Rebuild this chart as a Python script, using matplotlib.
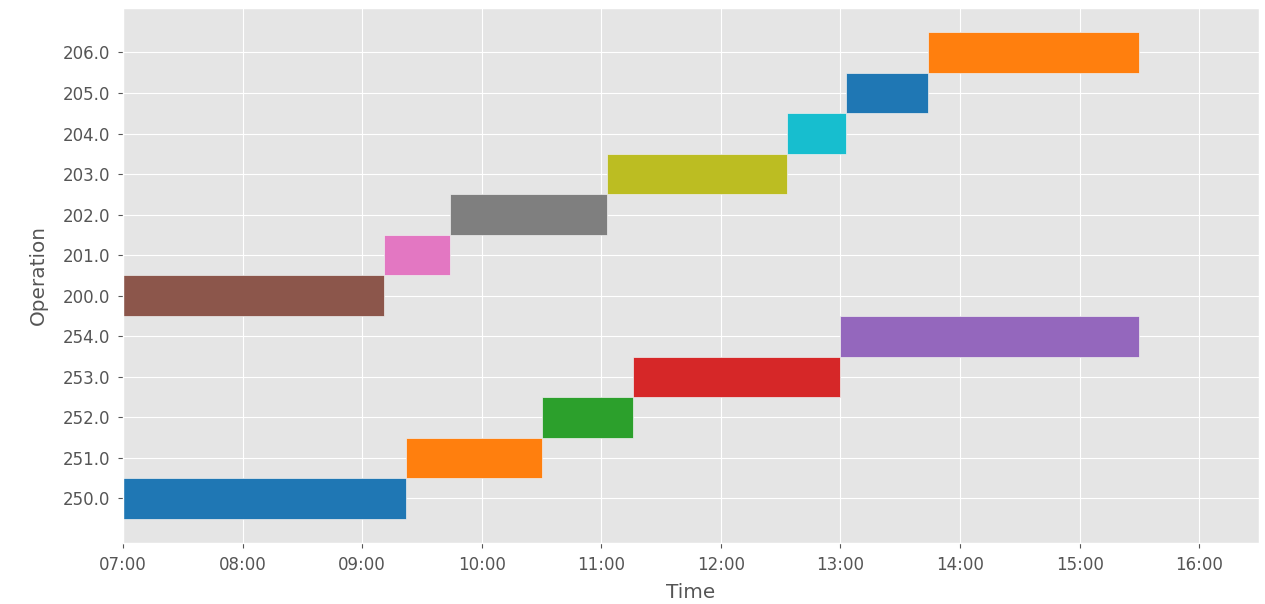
import datetime as dt
import matplotlib
matplotlib.use("Agg")
import matplotlib.pyplot as plt
import matplotlib.dates as mdates

plt.style.use("ggplot")
plt.rcParams["font.size"] = 12

# operations in plotting order (bottom to top)
operations = [250.0, 251.0, 252.0, 253.0, 254.0, 200.0, 201.0, 202.0, 203.0, 204.0, 205.0, 206.0]
starts = ["07:00", "09:22", "10:30", "11:16", "13:00",
          "07:00", "09:11", "09:44", "11:03", "12:33", "13:03", "13:44"]
ends = ["09:22", "10:30", "11:16", "13:00", "15:30",
        "09:11", "09:44", "11:03", "12:33", "13:03", "13:44", "15:30"]
colors = ["#1f77b4", "#ff7f0e", "#2ca02c", "#d62728", "#9467bd",
          "#8c564b", "#e377c2", "#7f7f7f", "#bcbd22", "#17becf", "#1f77b4", "#ff7f0e"]

day = dt.date(2020, 1, 1)


def to_num(s):
    h, m = map(int, s.split(":"))
    return mdates.date2num(dt.datetime.combine(day, dt.time(h, m)))


fig = plt.figure(figsize=(12.65, 6.04), dpi=100)
ax = fig.add_axes([0.0972, 0.101, 0.8981, 0.886])

for i, (s, e, c) in enumerate(zip(starts, ends, colors)):
    x0 = to_num(s)
    ax.barh(i, to_num(e) - x0, left=x0, height=1.0, color=c,
            edgecolor="#EEEEEE", linewidth=0.5)

ax.set_yticks(range(len(operations)))
ax.set_yticklabels([f"{op:.1f}" for op in operations])

ax.set_xlim(to_num("07:00"), to_num("16:30"))
ax.xaxis.set_major_locator(mdates.HourLocator())
ax.xaxis.set_major_formatter(mdates.DateFormatter("%H:%M"))
ax.tick_params(axis="x", pad=6)
ax.tick_params(axis="y", pad=6)

ax.set_xlabel("Time", labelpad=6)
ax.set_ylabel("Operation", labelpad=10)

fig.savefig("out.png", dpi=100)
